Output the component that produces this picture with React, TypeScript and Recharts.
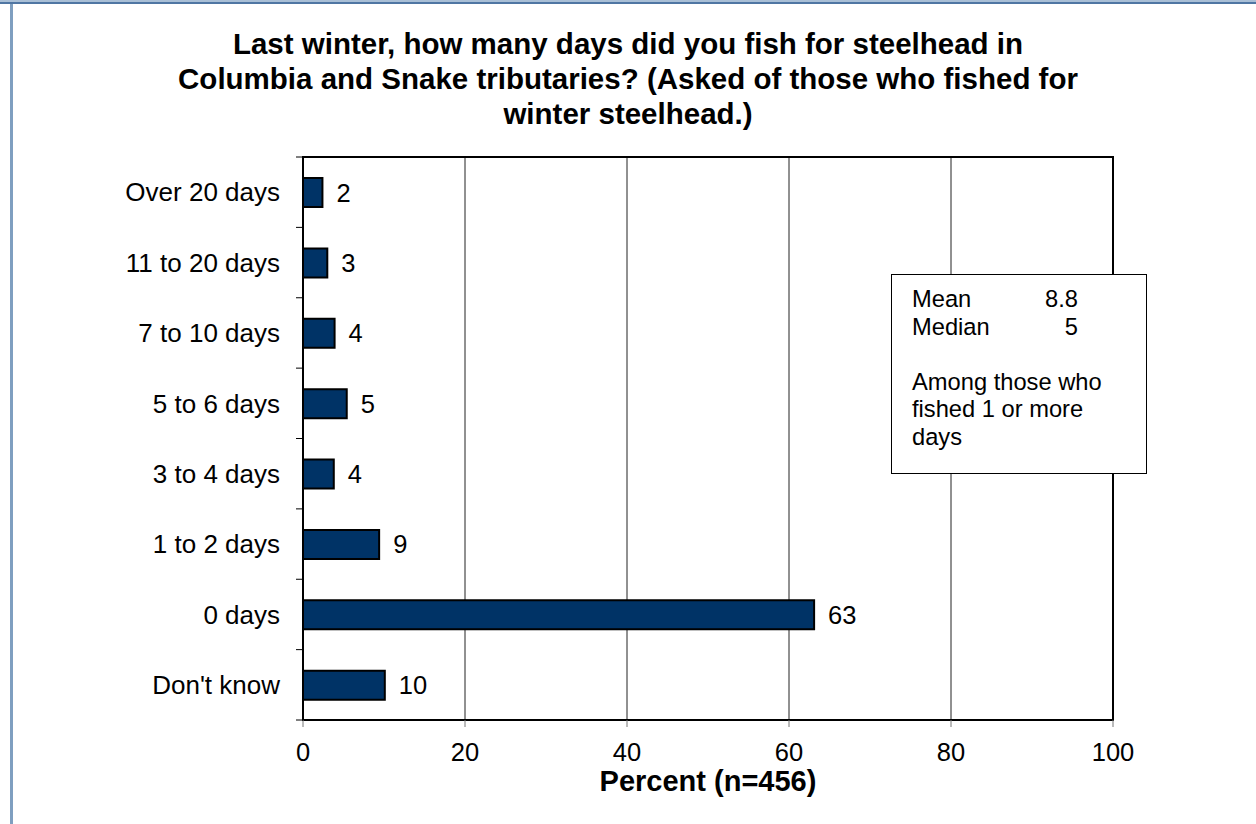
import React from 'react'
import {
  BarChart,
  Bar,
  XAxis,
  YAxis,
  CartesianGrid,
  ReferenceArea,
  LabelList,
} from 'recharts'

const categories = [
  'Over 20 days',
  '11 to 20 days',
  '7 to 10 days',
  '5 to 6 days',
  '3 to 4 days',
  '1 to 2 days',
  '0 days',
  "Don't know",
]
const percents = [2.4, 3.0, 3.9, 5.4, 3.8, 9.4, 63.1, 10.1]
const shownLabels = [2, 3, 4, 5, 4, 9, 63, 10]
const xTicks = [0, 20, 40, 60, 80, 100]

const titleLines = [
  'Last winter, how many days did you fish for steelhead in',
  'Columbia and Snake tributaries? (Asked of those who fished for',
  'winter steelhead.)',
]

const data = categories.map((name, i) => ({
  name,
  value: percents[i],
  label: shownLabels[i],
}))

const FONT = '"Liberation Sans", Arial, sans-serif'

// category ticks sit between bands, like the original
const CategoryTick = (props: any) => {
  const { x, y, payload, index, visibleTicksCount } = props
  const half = payload?.offset ?? 35
  const axisX = x + 23
  const isLast = index === (visibleTicksCount ?? categories.length) - 1
  return (
    <g>
      <line x1={axisX - 7} x2={axisX} y1={y - half} y2={y - half} stroke="#000" strokeWidth={1} />
      {isLast && (
        <line x1={axisX - 7} x2={axisX} y1={y + half} y2={y + half} stroke="#000" strokeWidth={1} />
      )}
      <text x={x} y={y} dy="0.355em" textAnchor="end" fontSize={26} fill="#000" fontFamily={FONT}>
        {payload.value}
      </text>
    </g>
  )
}

export default function App() {
  return (
    <div style={{ position: 'absolute', left: 0, top: 0, width: 1256, height: 824, background: '#fff', fontFamily: FONT }}>
      <div style={{ position: 'absolute', left: 0, top: 0, width: 1256, height: 2, background: '#a9bfd6' }} />
      <div style={{ position: 'absolute', left: 0, top: 2, width: 1256, height: 2, background: '#4f76a3' }} />
      <div style={{ position: 'absolute', left: 10, top: 4, width: 3, height: 820, background: '#7f9fc0' }} />

      <div
        style={{
          position: 'absolute',
          left: 0,
          top: 26,
          width: 1256,
          textAlign: 'center',
          fontWeight: 'bold',
          fontSize: 29.5,
          lineHeight: '35px',
          color: '#000',
        }}
      >
        {titleLines.map((t) => (
          <div key={t}>{t}</div>
        ))}
      </div>

      <BarChart
        width={1256}
        height={824}
        data={data}
        layout="vertical"
        margin={{ top: 157, right: 143, bottom: 0, left: 13 }}
        style={{ position: 'absolute', left: 0, top: 0 }}
      >
        <CartesianGrid horizontal={false} stroke="#222" strokeWidth={1} />
        <XAxis
          type="number"
          domain={[0, 100]}
          ticks={xTicks}
          height={104}
          tickSize={7}
          tickMargin={16}
          tickLine={{ stroke: '#777', strokeWidth: 1 }}
          axisLine={{ stroke: '#000', strokeWidth: 2 }}
          tick={{ fontSize: 25.5, fill: '#000', fontFamily: FONT }}
          label={{
            value: 'Percent (n=456)',
            position: 'insideBottom',
            offset: 33,
            fontSize: 29,
            fontWeight: 'bold',
            fill: '#000',
            fontFamily: FONT,
          }}
        />
        <YAxis
          type="category"
          dataKey="name"
          width={290}
          tickSize={7}
          tickMargin={16}
          tickLine={false}
          axisLine={{ stroke: '#000', strokeWidth: 2 }}
          tick={<CategoryTick />}
          interval={0}
        />
        <ReferenceArea x1={0} x2={100} fill="none" stroke="#000" strokeWidth={2} ifOverflow="visible" />
        <Bar dataKey="value" fill="#003366" stroke="#000" strokeWidth={2} barSize={29} isAnimationActive={false}>
          <LabelList dataKey="label" position="right" offset={14} fontSize={25.5} fill="#000" fontFamily={FONT} />
        </Bar>
      </BarChart>

      <div
        style={{
          position: 'absolute',
          left: 891,
          top: 274,
          width: 256,
          height: 200,
          boxSizing: 'border-box',
          border: '1.5px solid #000',
          background: '#fff',
          padding: '11px 0 0 20px',
          fontSize: 23.7,
          lineHeight: '27.5px',
          color: '#000',
        }}
      >
        <div style={{ display: 'flex', width: 166 }}>
          <span>Mean</span>
          <span style={{ marginLeft: 'auto' }}>8.8</span>
        </div>
        <div style={{ display: 'flex', width: 166 }}>
          <span>Median</span>
          <span style={{ marginLeft: 'auto' }}>5</span>
        </div>
        <div style={{ height: 27.5 }} />
        <div>Among those who</div>
        <div>fished 1 or more</div>
        <div>days</div>
      </div>
    </div>
  )
}
